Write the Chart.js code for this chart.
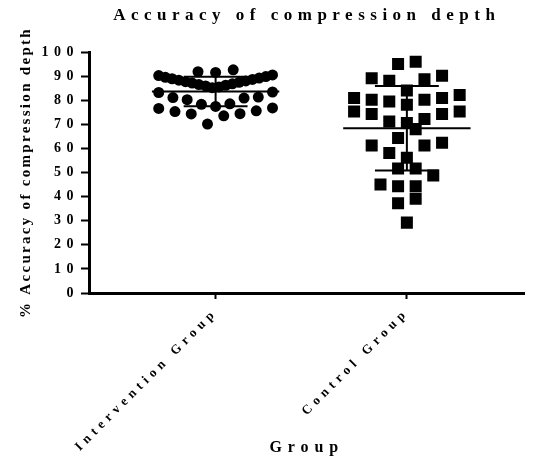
<!DOCTYPE html>
<html>
<head>
<meta charset="utf-8">
<script src="https://cdn.jsdelivr.net/npm/chart.js@4.4.1/dist/chart.umd.min.js"></script>
<style>
  html, body { margin: 0; padding: 0; background: #fff; }
  canvas { display: block; }
</style>
</head>
<body>
<canvas id="dotChart" width="533" height="459"></canvas>
<script>
// ===============================
// DATA
// ===============================

const groups = ['Intervention Group', 'Control Group'];

const interventionValues = [
    91.5, 91.8, 92.6,
    85.2, 85.5, 85.9, 86.2, 86.5, 86.8, 87.1, 87.4, 87.7,
    88.0, 88.3, 88.6, 88.9, 89.2, 89.5, 89.8, 90.2, 90.5,
    77.4, 78.3, 78.5, 80.2, 80.9, 81.1, 81.3, 83.2, 83.4,
    70.1, 73.5, 74.3, 74.4, 75.3, 75.6, 76.6, 76.8
];

const controlValues = [
    96.0, 95.0, 90.1, 88.7, 89.1, 88.1, 84.0, 82.2, 80.9, 80.2,
    78.1, 79.5, 80.2, 80.9, 74.3, 72.2, 75.3, 75.3, 74.3, 70.5,
    71.2, 68.0, 64.3, 61.2, 61.2, 62.3, 58.1, 56.1, 51.7, 51.7,
    48.8, 45.0, 44.3, 44.3, 39.1, 37.2, 29.2
];

const yTickValues = [0, 10, 20, 30, 40, 50, 60, 70, 80, 90, 100];


// ===============================
// WIDE LETTER SPACING (like the GraphPad export)
// ===============================

// font size (px) -> letter spacing (px)
const letterSpacingBySize = { 13: 4.8, 14: 5.5, 15: 2.3, 16: 5.9, 17: 5.5 };

const ctxProto = CanvasRenderingContext2D.prototype;
['fillText', 'measureText'].forEach(name => {
    const original = ctxProto[name];
    ctxProto[name] = function (...args) {
        const m = /(\d+)px/.exec(this.font);
        const s = m ? (letterSpacingBySize[m[1]] || 0) : 0;
        this.letterSpacing = s + 'px';
        return original.apply(this, args);
    };
});


// ===============================
// HELPERS
// ===============================

// spread points of similar value sideways, lowest in the middle
function swarm(values, center) {
    const rows = new Map();
    values.forEach(v => {
        const k = Math.floor(v / 7);
        if (!rows.has(k)) rows.set(k, []);
        rows.get(k).push(v);
    });

    const points = [];
    rows.forEach(row => {
        row.sort((a, b) => a - b);
        const n = row.length;
        const step = n > 1 ? Math.min(0.092, 0.595 / (n - 1)) : 0;
        row.forEach((v, i) => {
            let slot;
            if (n % 2) slot = i === 0 ? 0 : Math.ceil(i / 2) * (i % 2 ? -1 : 1);
            else slot = (Math.floor(i / 2) + 0.5) * (i % 2 ? 1 : -1);
            points.push({ x: center + slot * step, y: v });
        });
    });
    return points;
}

function meanSd(values) {
    const n = values.length;
    const mean = values.reduce((a, b) => a + b, 0) / n;
    const sd = Math.sqrt(values.reduce((a, v) => a + (v - mean) ** 2, 0) / (n - 1));
    return { mean, sd };
}

function segment(x1, y1, x2, y2) {
    return {
        data: [{ x: x1, y: y1 }, { x: x2, y: y2 }],
        showLine: true,
        borderColor: '#000',
        borderWidth: 2,
        pointRadius: 0,
        pointHoverRadius: 0
    };
}

function errorBars(values, center) {
    const { mean, sd } = meanSd(values);
    return [
        segment(center - 0.333, mean, center + 0.333, mean),
        segment(center, mean - sd, center, mean + sd),
        segment(center - 0.167, mean + sd, center + 0.167, mean + sd),
        segment(center - 0.167, mean - sd, center + 0.167, mean - sd)
    ];
}


// ===============================
// CHART
// ===============================

const font = (size) => ({ family: '"Liberation Serif", "Times New Roman", serif', size: size, weight: 'bold' });

const ctx = document.getElementById('dotChart').getContext('2d');

new Chart(ctx, {
    type: 'scatter',
    data: {
        datasets: [
            {
                data: swarm(interventionValues, 1),
                pointStyle: 'circle',
                pointRadius: 5.5,
                backgroundColor: '#000',
                borderWidth: 0
            },
            {
                data: swarm(controlValues, 2),
                pointStyle: 'rect',
                pointRadius: 8.5,
                backgroundColor: '#000',
                borderWidth: 0
            },
            ...errorBars(interventionValues, 1),
            ...errorBars(controlValues, 2)
        ]
    },
    options: {
        responsive: false,
        animation: false,
        layout: { padding: 0 },
        plugins: {
            legend: { display: false },
            tooltip: { enabled: false }
        },
        scales: {
            x: {
                type: 'linear',
                position: 'bottom',
                min: 0.338,
                max: 2.615,
                afterBuildTicks: s => { s.ticks = [{ value: 1 }, { value: 2 }]; },
                afterFit: s => { s.height = 166; },
                ticks: {
                    callback: v => groups[v - 1],
                    minRotation: 45,
                    maxRotation: 45,
                    color: '#000',
                    font: font(13),
                    padding: 6
                },
                grid: {
                    drawOnChartArea: false,
                    tickLength: 6,
                    tickWidth: 2,
                    tickColor: '#000'
                },
                border: { color: '#000', width: 3 },
                title: {
                    display: true,
                    text: 'Group',
                    color: '#000',
                    font: font(16),
                    padding: { top: 0, bottom: 1.5 }
                }
            },
            xTop: {
                type: 'linear',
                position: 'top',
                min: 0,
                max: 1,
                afterFit: s => { s.height = 52; },
                ticks: { display: false },
                grid: { display: false },
                border: { display: false },
                title: {
                    display: true,
                    text: 'Accuracy of compression depth',
                    color: '#000',
                    font: font(17),
                    padding: { top: 5, bottom: 0 }
                }
            },
            y: {
                min: 0,
                max: 100,
                afterBuildTicks: s => { s.ticks = yTickValues.map(v => ({ value: v })); },
                afterFit: s => { s.width = 89; },
                ticks: {
                    color: '#000',
                    font: font(14),
                    padding: 2
                },
                grid: {
                    drawOnChartArea: false,
                    tickLength: 8,
                    tickWidth: 2,
                    tickColor: '#000'
                },
                border: { color: '#000', width: 3 },
                title: {
                    display: true,
                    text: '% Accuracy of compression depth',
                    color: '#000',
                    font: font(15),
                    padding: { top: 17, bottom: 0 }
                }
            }
        }
    }
});
</script>
</body>
</html>
